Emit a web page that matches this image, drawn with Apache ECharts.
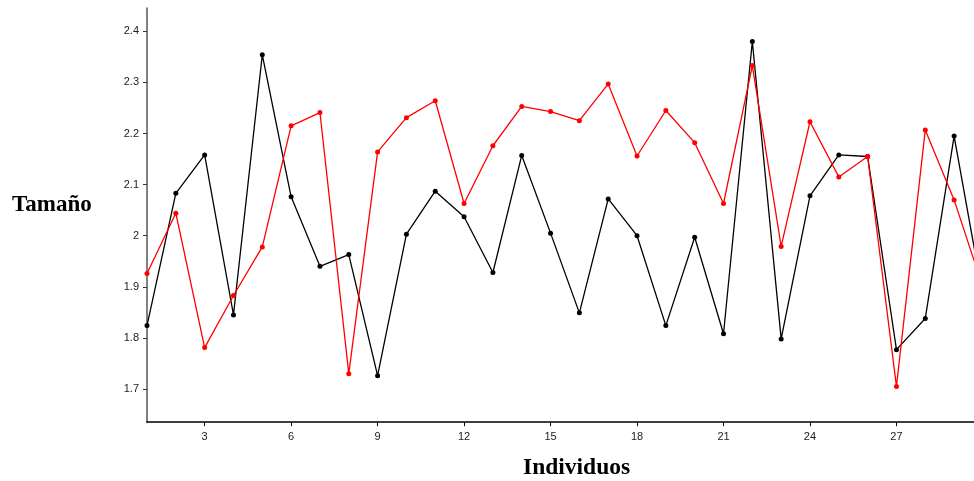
<!DOCTYPE html>
<html>
<head>
<meta charset="utf-8">
<script src="https://cdn.jsdelivr.net/npm/echarts@6/dist/echarts.min.js"></script>
<style>
  html, body { margin: 0; padding: 0; background: #fff; }
  #chart { width: 974px; height: 481px; }
</style>
</head>
<body>
<div id="chart"></div>
<script>
// Individual index (x) for each measurement
const individuos = [1, 2, 3, 4, 5, 6, 7, 8, 9, 10, 11, 12, 13, 14, 15,
                    16, 17, 18, 19, 20, 21, 22, 23, 24, 25, 26, 27, 28, 29, 30];

// Size measurements, first series (black)
const tamanoNegro = [1.824, 2.083, 2.158, 1.845, 2.354, 2.076, 1.940, 1.963, 1.726, 2.003,
                     2.087, 2.037, 1.928, 2.157, 2.005, 1.849, 2.072, 2.000, 1.824, 1.997,
                     1.808, 2.380, 1.798, 2.078, 2.158, 2.155, 1.777, 1.838, 2.195, 1.881];

// Size measurements, second series (red)
const tamanoRojo = [1.926, 2.044, 1.781, 1.883, 1.978, 2.215, 2.241, 1.730, 2.164, 2.231,
                    2.264, 2.063, 2.176, 2.253, 2.243, 2.225, 2.297, 2.156, 2.245, 2.182,
                    2.063, 2.333, 1.979, 2.223, 2.115, 2.155, 1.705, 2.207, 2.070, 1.899];

// Tick labels
const xTicks = [3, 6, 9, 12, 15, 18, 21, 24, 27];
const yTicks = [1.7, 1.8, 1.9, 2.0, 2.1, 2.2, 2.3, 2.4];

const pairs = (ys) => individuos.map((x, i) => [x, ys[i]]);

const chart = echarts.init(document.getElementById('chart'), null, { renderer: 'canvas' });

chart.setOption({
  animation: false,
  backgroundColor: '#ffffff',
  grid: { left: 147, right: 0, top: 8.3, bottom: 58.8, containLabel: false },
  xAxis: {
    type: 'value',
    min: 1,
    max: 29.69,   // the visible window ends just before individual 30
    axisLine: { show: true, onZero: false, lineStyle: { color: '#000', width: 1.5 } },
    axisTick: { show: true, length: 4, customValues: xTicks, lineStyle: { color: '#000', width: 1 } },
    axisLabel: {
      customValues: xTicks,
      margin: 9,
      color: '#222',
      fontFamily: 'Liberation Sans, Arial, sans-serif',
      fontSize: 11
    },
    splitLine: { show: false }
  },
  yAxis: {
    type: 'value',
    min: 1.635,
    max: 2.445,
    axisLine: { show: true, onZero: false, lineStyle: { color: '#808080', width: 2 } },
    axisTick: { show: true, length: 4, customValues: yTicks, lineStyle: { color: '#333', width: 1 } },
    axisLabel: {
      customValues: yTicks,
      margin: 8,
      color: '#222',
      fontFamily: 'Liberation Sans, Arial, sans-serif',
      fontSize: 11,
      formatter: (v) => String(+(+v).toFixed(1))
    },
    splitLine: { show: false }
  },
  series: [
    {
      type: 'line',
      data: pairs(tamanoNegro),
      clip: true,
      symbol: 'circle',
      symbolSize: 5,
      lineStyle: { color: '#000', width: 1.3 },
      itemStyle: { color: '#000' },
      z: 2
    },
    {
      type: 'line',
      data: pairs(tamanoRojo),
      clip: true,
      symbol: 'circle',
      symbolSize: 5,
      lineStyle: { color: '#ff0000', width: 1.3 },
      itemStyle: { color: '#ff0000' },
      z: 3
    }
  ],
  graphic: [
    {
      type: 'text',
      left: 12, top: 194,
      style: {
        text: 'Tamaño',
        font: 'bold 23px "Liberation Serif", "Times New Roman", serif',
        fill: '#000'
      }
    },
    {
      type: 'text',
      left: 523, top: 456,
      style: {
        text: 'Individuos',
        font: 'bold 23.5px "Liberation Serif", "Times New Roman", serif',
        fill: '#000'
      }
    }
  ]
});
</script>
</body>
</html>
